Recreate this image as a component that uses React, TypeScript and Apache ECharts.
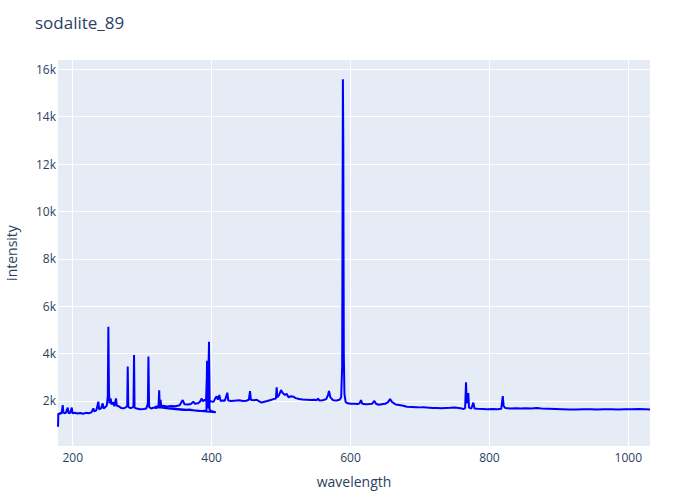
import React, { useEffect, useRef } from "react";
import * as echarts from "echarts";

const TITLE = "sodalite_89";
const X_NAME = "wavelength";
const Y_NAME = "intensity";

const xTicks = [200, 400, 600, 800, 1000];
const yTicks = [2000, 4000, 6000, 8000, 10000, 12000, 14000, 16000];

// channel 1 (UV)
const wl1 = [
  178.8, 179.3, 180.5, 182, 184, 185.6, 186.5, 188, 190, 192.8, 193.8, 196, 198.6, 199.6,
  203, 207, 211, 215, 219, 223, 227, 229.7, 231, 234, 236.9, 238, 241, 243.2, 244.5, 247,
  249, 250.5, 251.3, 252.2, 253, 254.5, 256, 258, 260, 262.3, 263.5, 266, 270, 273, 276,
  278.5, 279.2, 280, 283, 286, 287.5, 288.3, 289, 292, 297, 302, 306, 308.2, 309, 310,
  313, 316, 320, 323.5, 324.5, 325.3, 326.5, 327.5, 332, 338, 345, 352, 360, 368, 375,
  382, 388, 392.5, 393.4, 394, 395.5, 396.2, 397, 399, 402, 406,
];
const int1 = [
  915, 1480, 1430, 1500, 1470, 1830, 1520, 1480, 1500, 1720, 1500, 1480, 1720, 1480,
  1500, 1470, 1490, 1460, 1500, 1480, 1520, 1690, 1560, 1600, 1970, 1650, 1700, 1900, 1680, 1750,
  1800, 2200, 5130, 2400, 1900, 2110, 1850, 1950, 1780, 2110, 1800, 1780, 1700, 1690, 1720,
  1800, 3450, 1750, 1700, 1720, 1800, 3940, 1720, 1680, 1650, 1660, 1680, 1900, 3880, 1750,
  1680, 1720, 1700, 1750, 2450, 1800, 2050, 1720, 1700, 1680, 1660, 1640, 1620, 1640, 1600,
  1580, 1590, 1600, 3700, 1800, 1700, 4500, 1650, 1580, 1560, 1520,
];

// channel 2 (VIS / NIR)
const wl2 = [
  318, 323, 326, 330, 336, 342, 348, 354, 358.4, 361, 366, 370, 373.7, 376, 380, 383,
  385.7, 387.5, 390, 392, 393.4, 394.6, 396.2, 397.2, 400, 403, 405, 407.3, 409, 411, 413,
  416, 419, 422.6, 424, 428, 432, 436, 440, 445, 450, 453.5, 455.3, 456.5, 460, 465, 468,
  472, 476, 480, 485, 489, 492.5, 493.7, 494.5, 497, 500, 502, 505.7, 508, 511, 514,
  517.6, 521, 526, 531, 537, 543, 548, 551, 553.6, 555, 560, 565, 567.5, 569, 571, 575,
  580, 584, 586.5, 588, 589, 589.6, 590.3, 591.2, 593, 596, 600, 605, 610, 613, 615.1,
  617, 622, 627, 631, 634.3, 637, 641, 645, 650, 654, 656.9, 660, 665, 670, 676, 681,
  688, 695, 700, 705, 710, 718, 725, 730, 737, 744, 750, 756, 760, 763, 765, 766.3,
  767.3, 769.6, 770.6, 774, 776.8, 778.5, 783, 790, 797, 805, 812, 817, 819.2, 820.5,
  823, 830, 838, 845, 852, 860, 868, 875, 885, 895, 905, 915, 925, 935, 945, 955, 965,
  975, 985, 995, 1005, 1015, 1025, 1031.2,
];
const int2 = [
  1750, 1780, 1760, 1800, 1770, 1790, 1780, 1820, 2040, 1860, 1850, 1870, 1970, 1880, 1900, 1960,
  2100, 1990, 2050, 2000, 3300, 2050, 4400, 2000, 1980, 1970, 2100, 2200, 2050, 2250, 2000,
  2020, 2010, 2350, 2020, 2000, 2010, 2020, 2030, 2000, 2010, 2050, 2420, 2050, 2030, 2050, 1990,
  1930, 1970, 2000, 2040, 2080, 2100, 2580, 2150, 2250, 2460, 2350, 2250, 2300, 2150, 2200,
  2180, 2120, 2080, 2060, 2050, 2040, 2050, 2030, 2100, 2020, 2030, 2080, 2250, 2420, 2150, 2030,
  2020, 2050, 2150, 3500, 15580, 12800, 4000, 2300, 1950, 1900, 1880, 1880, 1870, 1900, 2040,
  1880, 1860, 1870, 1880, 2000, 1870, 1840, 1860, 1880, 1950, 2080, 1950, 1850, 1830, 1800, 1760,
  1750, 1740, 1730, 1740, 1720, 1700, 1700, 1690, 1700, 1710, 1720, 1700, 1680, 1660, 1700, 2790,
  1900, 2330, 1720, 1680, 1930, 1680, 1670, 1660, 1650, 1660, 1650, 1670, 2210, 1780,
  1700, 1680, 1690, 1680, 1690, 1680, 1700, 1680, 1670, 1660, 1650, 1640, 1640, 1650, 1650, 1640, 1650,
  1650, 1640, 1650, 1650, 1660, 1650, 1640,
];

const X_MIN = 178.8;
const X_MAX = 1031.2;
const Y_MIN = 100;
const Y_MAX = 16390;

const TEXT = "#2a3f5f";
const FONT = "Open Sans";

export default function App() {
  const ref = useRef<HTMLDivElement>(null);
  useEffect(() => {
    const chart = echarts.init(ref.current!, null, { renderer: "svg" });
    const data = [
      ...wl1.map((w, i) => [w, int1[i]]),
      ...wl2.map((w, i) => [w, int2[i]]),
    ];
    chart.setOption({
      animation: false,
      backgroundColor: "#ffffff",
      textStyle: { fontFamily: FONT },
      title: {
        text: TITLE,
        left: 30,
        top: 9,
        textStyle: { fontFamily: FONT, fontSize: 17, fontWeight: "normal", color: TEXT },
      },
      grid: {
        left: 58,
        right: 50,
        top: 60,
        bottom: 54,
        show: true,
        backgroundColor: "#E5ECF6",
        borderWidth: 0,
        outerBoundsMode: "none",
        containLabel: false,
      },
      xAxis: {
        type: "value",
        min: X_MIN,
        max: X_MAX,
        name: X_NAME,
        nameLocation: "middle",
        nameGap: 28,
        nameTextStyle: { fontFamily: FONT, fontSize: 14, color: TEXT },
        axisLine: { show: false },
        axisTick: { show: false, customValues: xTicks },
        axisLabel: {
          customValues: xTicks,
          color: TEXT,
          fontSize: 12,
          fontFamily: FONT,
          margin: 5,
          formatter: (v: number) => String(v),
        },
        splitLine: { show: true, lineStyle: { color: "#ffffff", width: 1 } },
      },
      yAxis: {
        type: "value",
        min: Y_MIN,
        max: Y_MAX,
        name: Y_NAME,
        nameLocation: "middle",
        nameGap: 40,
        nameTextStyle: { fontFamily: FONT, fontSize: 14, color: TEXT },
        axisLine: { show: false },
        axisTick: { show: false, customValues: yTicks },
        axisLabel: {
          customValues: yTicks,
          color: TEXT,
          fontSize: 12,
          fontFamily: FONT,
          margin: 2,
          formatter: (v: number) => `${v / 1000}k`,
        },
        splitLine: { show: true, lineStyle: { color: "#ffffff", width: 1 } },
      },
      series: [
        {
          type: "line",
          data,
          showSymbol: false,
          symbol: "none",
          lineStyle: { color: "#0000ff", width: 2 },
          itemStyle: { color: "#0000ff" },
        },
      ],
    });
    return () => chart.dispose();
  }, []);
  return (
    <div
      ref={ref}
      style={{ position: "absolute", left: 0, top: 0, width: 700, height: 500 }}
    />
  );
}
